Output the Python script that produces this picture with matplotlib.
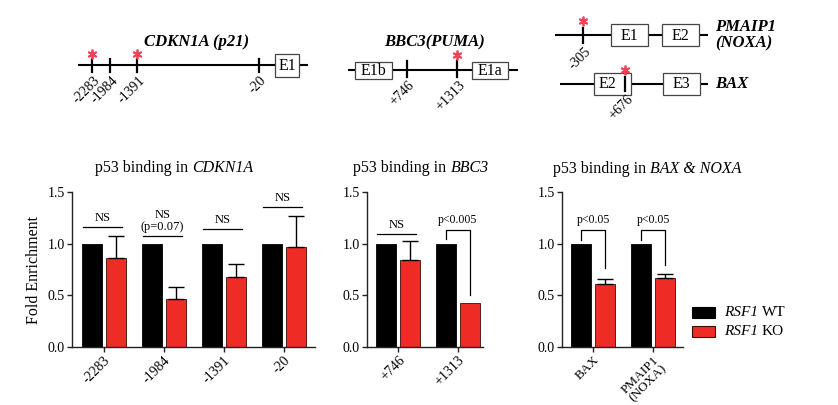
import numpy as np
import matplotlib
matplotlib.use('Agg')
import matplotlib.pyplot as plt
from matplotlib.patches import Rectangle
from matplotlib.ticker import FormatStrFormatter

plt.rcParams['font.family'] = 'Liberation Serif'

RED = '#EE2C25'
STAR = '#F0435A'

# bar data (fold enrichment, WT normalised to 1)
p21_sites = ['-2283', '-1984', '-1391', '-20']
p21_wt = [1.0, 1.0, 1.0, 1.0]
p21_ko = [0.86, 0.46, 0.68, 0.97]
p21_ko_err = [0.21, 0.12, 0.12, 0.30]
p21_sig = ['NS', 'NS\n(p=0.07)', 'NS', 'NS']
p21_sig_y = [1.16, 1.07, 1.14, 1.35]

puma_sites = ['+746', '+1313']
puma_wt = [1.0, 1.0]
puma_ko = [0.84, 0.43]
puma_ko_err = [0.19, 0.0]

bax_sites = ['BAX', 'PMAIP1\n(NOXA)']
bax_wt = [1.0, 1.0]
bax_ko = [0.61, 0.67]
bax_ko_err = [0.05, 0.04]

fig = plt.figure(figsize=(8.38, 4.05), dpi=100)
renderer = fig.canvas.get_renderer()

# overlay in pixel coords for the gene schematics, titles and legend
ov = fig.add_axes([0, 0, 1, 1], zorder=0)
ov.set_xlim(0, 838)
ov.set_ylim(405, 0)
ov.axis('off')


def rich(x, y, parts, size, ha='center'):
    # place text pieces of different style side by side, one space apart
    texts = [ov.text(0, y, s, style=st, fontsize=size, ha='left', va='center')
             for s, st in parts]
    probe = ov.text(0, 0, 'x x', fontsize=size)
    probe2 = ov.text(0, 0, 'xx', fontsize=size)
    space = probe.get_window_extent(renderer).width - probe2.get_window_extent(renderer).width
    probe.remove()
    probe2.remove()
    widths = [t.get_window_extent(renderer).width for t in texts]
    total = sum(widths) + space * (len(texts) - 1)
    x0 = x - total / 2 if ha == 'center' else x
    for t, w in zip(texts, widths):
        t.set_x(x0)
        x0 += w + space


def gene_line(x0, x1, y):
    ov.plot([x0, x1], [y, y], color='black', lw=1.5, solid_capstyle='butt', zorder=2)


def exon(x0, x1, y0, y1, label, tx=None):
    ov.add_patch(Rectangle((x0, y0), x1 - x0, y1 - y0, facecolor='white',
                           edgecolor='#444444', lw=0.9, zorder=3))
    if tx is None:
        tx = (x0 + x1) / 2
    ov.text(tx, (y0 + y1) / 2 + 0.5, label, ha='center', va='center',
            fontsize=11.5, zorder=4)


def site(x, y0, y1, label, star=None):
    ov.plot([x, x], [y0, y1], color='black', lw=1.6, zorder=5)
    ov.text(x + 1, y1 + 2, label, rotation=45, rotation_mode='anchor',
            ha='right', va='top', fontsize=10)
    if star is not None:
        ov.plot(x, star, marker=(6, 2, 0), ms=7, mew=1.3, color=STAR, zorder=6)


# CDKN1A
gene_line(78, 308, 65)
exon(275, 299, 54, 77, 'E1')
site(92, 59, 72, '-2283', star=54)
site(110, 59, 72, '-1984')
site(137, 59, 72, '-1391', star=54)
site(259, 59, 72, '-20')
ov.text(197, 42, 'CDKN1A (p21)', ha='center', va='center', fontsize=12,
        fontweight='bold', style='italic')

# BBC3
gene_line(348, 518, 70)
exon(355, 392, 62, 79, 'E1b')
exon(472, 508, 62, 79, 'E1a')
site(407, 61, 77, '+746')
site(457, 61, 77, '+1313', star=55)
ov.text(435, 42, 'BBC3(PUMA)', ha='center', va='center', fontsize=12,
        fontweight='bold', style='italic')

# PMAIP1
gene_line(555, 708, 35)
exon(611, 648, 24, 46, 'E1')
exon(662, 699, 24, 46, 'E2')
site(583, 28, 43, '-305', star=21)
ov.text(715, 35, 'PMAIP1\n(NOXA)', ha='left', va='center', fontsize=12,
        fontweight='bold', style='italic', linespacing=1.0)

# BAX
gene_line(560, 708, 84)
exon(594, 631, 73, 95, 'E2', tx=607)
exon(663, 700, 73, 95, 'E3')
site(625, 77, 91, '+676', star=70)
ov.text(715, 84, 'BAX', ha='left', va='center', fontsize=12,
        fontweight='bold', style='italic')

# panel titles
rich(174, 168, [('p53 binding in', 'normal'), ('CDKN1A', 'italic')], 11.5)
rich(421, 168, [('p53 binding in', 'normal'), ('BBC3', 'italic')], 11.5)
rich(647, 169, [('p53 binding in', 'normal'), ('BAX & NOXA', 'italic')], 11.5)


def bar_panel(rect, sites, wt, ko, ko_err, xlim, xsize=10):
    ax = fig.add_axes(rect, zorder=2)
    ax.patch.set_alpha(0)
    x = np.arange(len(sites))
    ax.bar(x - 0.2, wt, 0.33, color='black', edgecolor='black', lw=0.6)
    ax.bar(x + 0.2, ko, 0.33, color=RED, edgecolor='#3a0c0c', lw=0.6)
    err = np.array(ko_err)
    m = err > 0
    ax.errorbar((x + 0.2)[m], np.array(ko)[m], yerr=[np.zeros(m.sum()), err[m]],
                fmt='none', ecolor='black', elinewidth=1.0, capsize=5.5, capthick=1.0)
    ax.set_xlim(*xlim)
    ax.set_ylim(0, 1.5)
    ax.set_yticks([0, 0.5, 1.0, 1.5])
    ax.yaxis.set_major_formatter(FormatStrFormatter('%.1f'))
    ax.set_xticks(x)
    ax.set_xticklabels(sites, rotation=45, ha='right', rotation_mode='anchor',
                       multialignment='center', linespacing=0.9, fontsize=xsize)
    for s in ['top', 'right']:
        ax.spines[s].set_visible(False)
    for s in ['left', 'bottom']:
        ax.spines[s].set_linewidth(1.0)
        ax.spines[s].set_color('#222222')
    ax.tick_params(direction='out', length=3.5, width=1.0, pad=1.5, color='#222222')
    ax.tick_params(axis='y', labelsize=10)
    return ax


def ns_line(ax, xc, y, label):
    ax.plot([xc - 0.35, xc + 0.3], [y, y], color='black', lw=0.9, clip_on=False)
    ax.text(xc - 0.02, y + 0.035, label, ha='center', va='bottom', fontsize=9,
            linespacing=1.0)


def bracket(ax, xc, y_left, y_top, y_right, label):
    ax.plot([xc - 0.2, xc - 0.2, xc + 0.2, xc + 0.2], [y_left, y_top, y_top, y_right],
            color='black', lw=0.9, clip_on=False)
    ax.text(xc, y_top + 0.04, label, ha='center', va='bottom', fontsize=8.5)


ax1 = bar_panel([72 / 838, 1 - 347 / 405, 243 / 838, 155 / 405],
                p21_sites, p21_wt, p21_ko, p21_ko_err, (-0.53, 3.52))
ax1.set_ylabel('Fold Enrichment', fontsize=11.5, labelpad=4)
for i, (lab, yy) in enumerate(zip(p21_sig, p21_sig_y)):
    ns_line(ax1, i, yy, lab)

ax2 = bar_panel([367 / 838, 1 - 347 / 405, 116 / 838, 155 / 405],
                puma_sites, puma_wt, puma_ko, puma_ko_err, (-0.52, 1.42))
ns_line(ax2, 0, 1.09, 'NS')
bracket(ax2, 1, 1.05, 1.13, 0.5, 'p<0.005')

ax3 = bar_panel([562 / 838, 1 - 347 / 405, 121 / 838, 155 / 405],
                bax_sites, bax_wt, bax_ko, bax_ko_err, (-0.52, 1.5), xsize=9.5)
bracket(ax3, 0, 1.04, 1.13, 0.76, 'p<0.05')
bracket(ax3, 1, 1.04, 1.13, 0.79, 'p<0.05')

# legend with italic gene name
legend_labels = ['WT', 'KO']
legend_colors = ['black', RED]
for k, (lab, col) in enumerate(zip(legend_labels, legend_colors)):
    yc = 312.5 + 19 * k
    ov.add_patch(Rectangle((692, yc - 5.5), 23, 11, facecolor=col,
                           edgecolor='black' if k == 0 else '#3a0c0c', lw=0.8))
    rich(724, yc, [('RSF1', 'italic'), (lab, 'normal')], 11, ha='left')

fig.savefig('out.png', dpi=100)
